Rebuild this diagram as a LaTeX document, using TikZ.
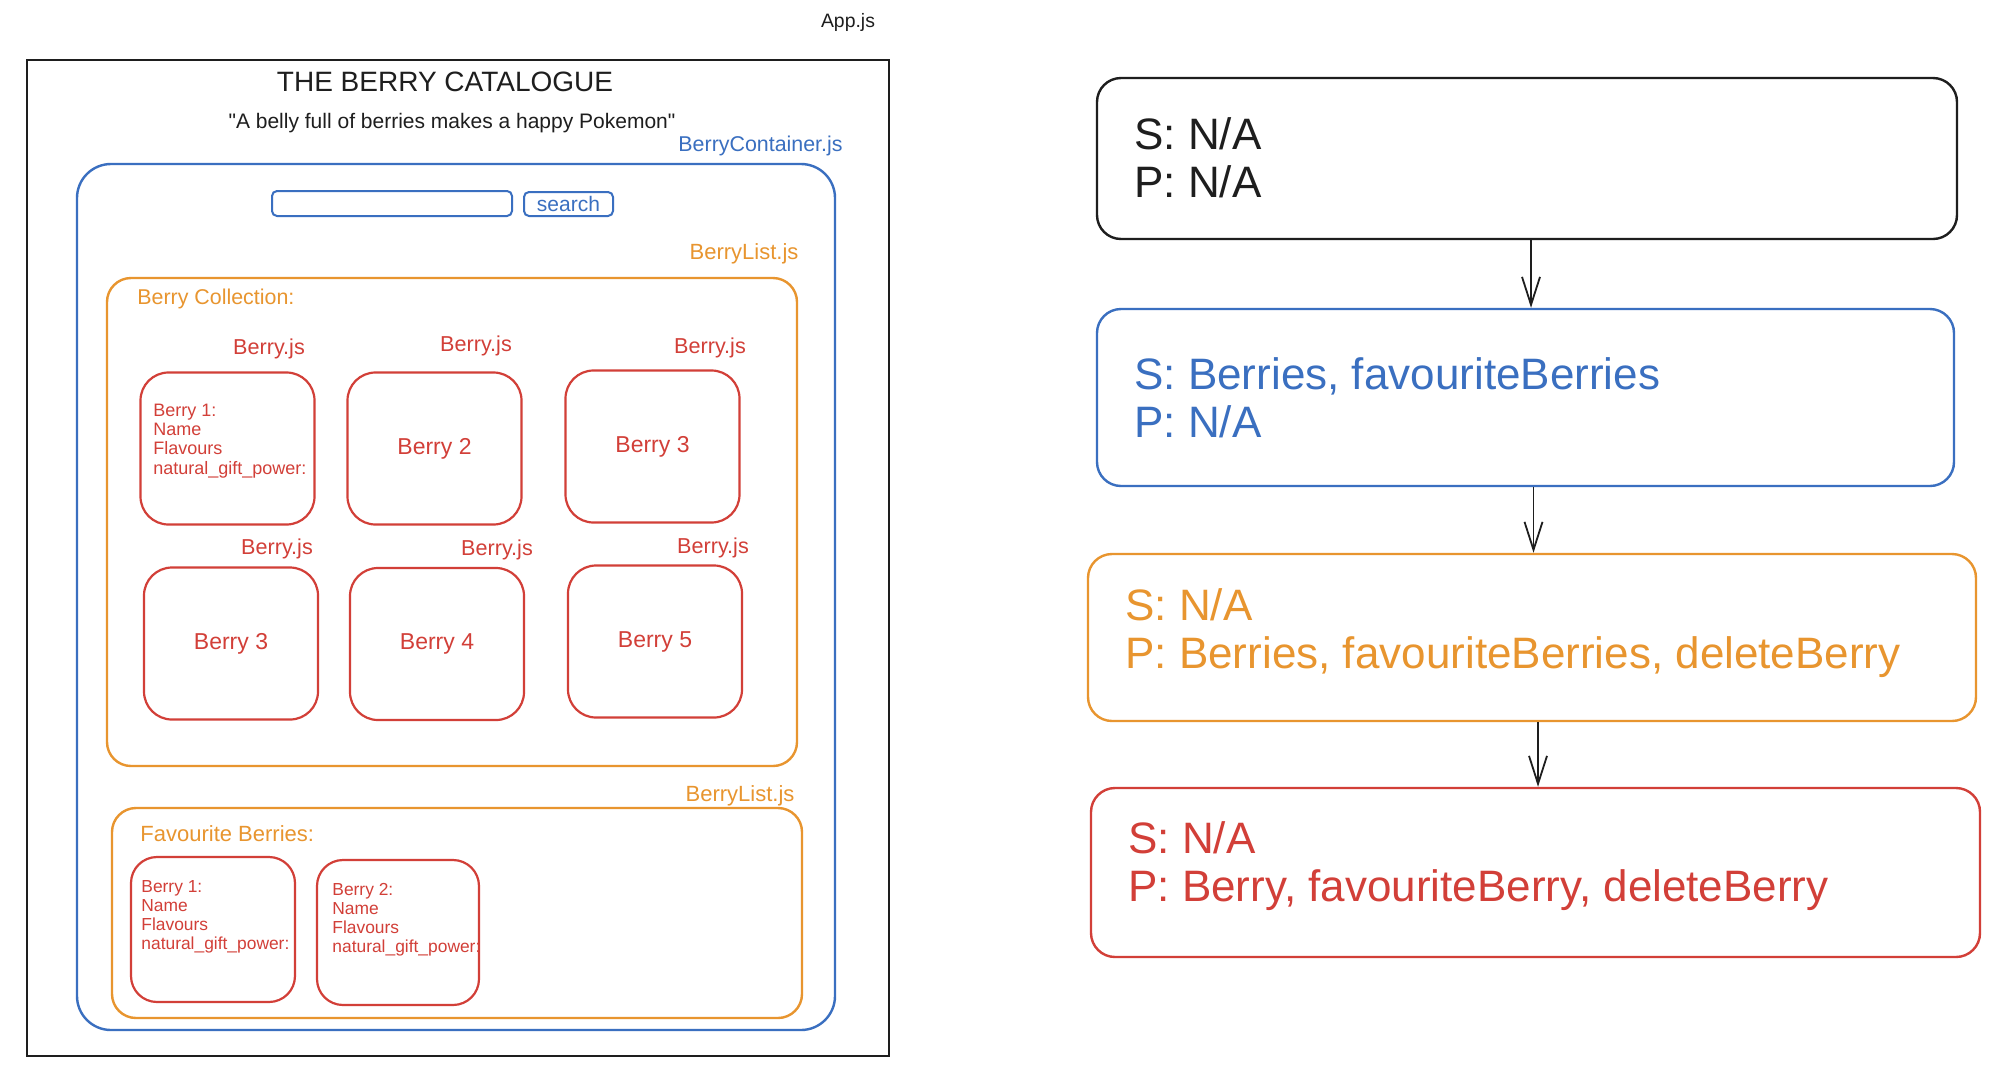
\documentclass[tikz,border=0pt]{standalone}
\usepackage{fontspec}
\setmainfont{Liberation Sans}
\usetikzlibrary{arrows.meta}
\definecolor{ink}{HTML}{1E1E1E}
\definecolor{eblue}{HTML}{3A6FC0}
\definecolor{eorange}{HTML}{E8952F}
\definecolor{ered}{HTML}{D23F38}
\begin{document}
\begin{tikzpicture}[x=0.5pt,y=-0.5pt,
  rbox/.style={draw, rounded corners=#1, line width=1.1pt, inner sep=0pt},
  rbox/.default=12pt,
  berrybox/.style={rbox=14pt, draw=ered, text=ered, minimum width=87pt, minimum height=76pt, font=\fontsize{11.5}{13}\selectfont},
  favbox/.style={rbox=13pt, draw=ered, minimum width=81.5pt, minimum height=72.5pt},
  jslbl/.style={inner sep=0pt, text=ered, font=\fontsize{10.8}{12}\selectfont},
  detail/.style={anchor=west, align=left, inner sep=0pt, text=ered},
  stlbl/.style={anchor=west, align=left, inner sep=0pt, font=\fontsize{22}{24}\selectfont},
  statebox/.style={rbox=12pt, line width=1.2pt},
  arr/.style={draw=ink, line width=0.9pt, -{Straight Barb[length=14pt,width=9pt]}}
]
\useasboundingbox (0,0) rectangle (2012,1066);
\fill[white] (0,0) rectangle (2012,1066);

% ---------- left: app mock-up ----------
\node[inner sep=0pt, text=ink, font=\fontsize{9.7}{11}\selectfont] (app) at (848,22) {App.js};
\node[draw=ink, line width=1pt, inner sep=0pt, minimum width=431pt, minimum height=498pt] (frame) at (458,558) {};
\node[inner sep=0pt, text=ink, font=\fontsize{14}{16}\selectfont] (title) at (445,82) {THE BERRY CATALOGUE};
\node[inner sep=0pt, text=ink, font=\fontsize{10.5}{12}\selectfont] (quote) at (452,123) {\textquotedbl A belly full of berries makes a happy Pokemon\textquotedbl};
\node[anchor=east, inner sep=0pt, text=eblue, font=\fontsize{10.7}{12}\selectfont] (bcjs) at (843,146) {BerryContainer.js};
\node[rbox=17pt, draw=eblue, line width=1.2pt, minimum width=379pt, minimum height=433pt] (cont) at (456,597) {};
\node[rbox=2.5pt, draw=eblue, line width=1pt, minimum width=120pt, minimum height=12.5pt] (input) at (392,203.5) {};
\node[rbox=2.5pt, draw=eblue, line width=1pt, minimum width=44.5pt, minimum height=12pt, text=eblue, font=\fontsize{10.5}{12}\selectfont] (btn) at (568.5,204) {search};

\node[inner sep=0pt, text=eorange, font=\fontsize{11}{12}\selectfont] (bl1) at (744,254) {BerryList.js};
\node[rbox=12pt, draw=eorange, line width=1.2pt, minimum width=345pt, minimum height=244pt] (list1) at (452,522) {};
\node[anchor=west, inner sep=0pt, text=eorange, font=\fontsize{10.7}{12}\selectfont] (bcol) at (137,299) {Berry Collection:};

\node[jslbl] (j1) at (269,349) {Berry.js};
\node[jslbl] (j2) at (476,346) {Berry.js};
\node[jslbl] (j3) at (710,348) {Berry.js};
\node[jslbl] (j4) at (277,549) {Berry.js};
\node[jslbl] (j5) at (497,550) {Berry.js};
\node[jslbl] (j6) at (713,548) {Berry.js};

\node[berrybox] (b1) at (227.5,448.5) {};
\node[detail, font=\fontsize{9}{9.6}\selectfont] (b1t) at (153,441) {Berry 1:\\Name\\Flavours\\natural\_gift\_power:};
\node[berrybox] (b2) at (434.5,448.5) {Berry 2};
\node[berrybox] (b3) at (652.5,446.5) {Berry 3};
\node[berrybox] (b4) at (231,643.5) {Berry 3};
\node[berrybox] (b5) at (437,644) {Berry 4};
\node[berrybox] (b6) at (655,641.5) {Berry 5};

\node[inner sep=0pt, text=eorange, font=\fontsize{11}{12}\selectfont] (bl2) at (740,796) {BerryList.js};
\node[rbox=12pt, draw=eorange, line width=1.2pt, minimum width=345pt, minimum height=105pt] (list2) at (457,913) {};
\node[anchor=west, inner sep=0pt, text=eorange, font=\fontsize{11}{12}\selectfont] (fav) at (140,834) {Favourite Berries:};
\node[favbox, minimum width=82pt] (f1) at (213,929.5) {};
\node[favbox, minimum width=81pt] (f2) at (398,932.5) {};
\node[detail, font=\fontsize{8.7}{9.5}\selectfont] (f1t) at (141,917) {Berry 1:\\Name\\Flavours\\natural\_gift\_power:};
\node[detail, font=\fontsize{8.7}{9.5}\selectfont] (f2t) at (332,919.5) {Berry 2:\\Name\\Flavours\\natural\_gift\_power:};

% ---------- right: state / props chain ----------
\node[statebox, draw=ink, minimum width=430pt, minimum height=80.5pt] (A) at (1527,158.5) {};
\node[stlbl, text=ink] (At) at (1134,157.5) {S: N/A\\P: N/A};
\node[statebox, draw=eblue, minimum width=428.5pt, minimum height=88.5pt] (B) at (1525.5,397.5) {};
\node[stlbl, text=eblue] (Bt) at (1134,398) {S: Berries, favouriteBerries\\P: N/A};
\node[statebox, draw=eorange, minimum width=444pt, minimum height=83.5pt] (C) at (1532,637.5) {};
\node[stlbl, text=eorange] (Ct) at (1125,633) {S: N/A\\P: Berries, favouriteBerries, deleteBerry};
\node[statebox, draw=ered, minimum width=444.5pt, minimum height=84.5pt] (D) at (1535.5,872.5) {};
\node[stlbl, text=ered] (Dt) at (1128,866) {S: N/A\\P: Berry, favouriteBerry, deleteBerry};

\draw[arr] ([xshift=2pt]A.south) -- ([xshift=2pt]A.south |- B.north);
\draw[arr] ([xshift=4pt]B.south) -- ([xshift=4pt]B.south |- C.north);
\draw[arr] ([xshift=3pt]C.south) -- ([xshift=3pt]C.south |- D.north);
\end{tikzpicture}
\end{document}
